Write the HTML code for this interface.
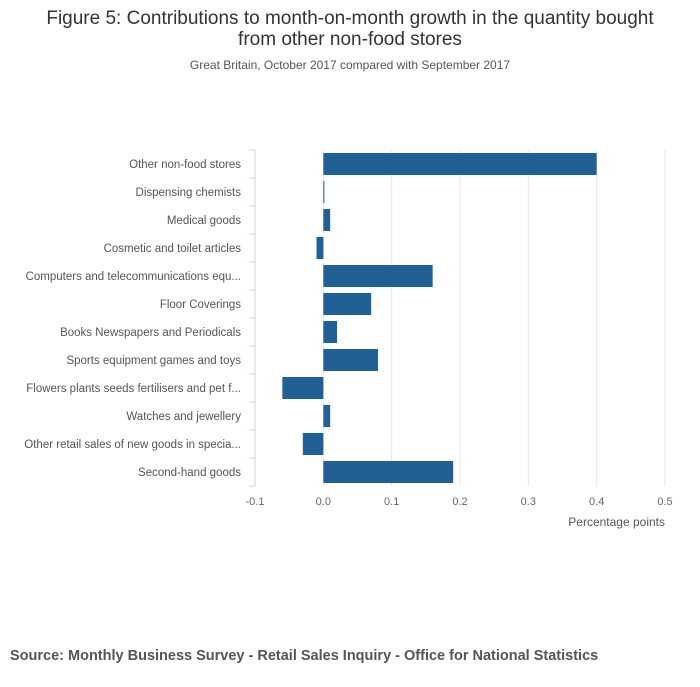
<!DOCTYPE html>
<html><head><meta charset="utf-8"><style>
body{margin:0;background:#fff;font-family:"Liberation Sans",sans-serif;}
</style></head><body>
<svg width="700" height="682" xmlns="http://www.w3.org/2000/svg">
<text x="350" y="24" text-anchor="middle" font-size="19" fill="#333">Figure 5: Contributions to month-on-month growth in the quantity bought</text>
<text x="350" y="45" text-anchor="middle" font-size="19" fill="#333">from other non-food stores</text>
<text x="350" y="69" text-anchor="middle" font-size="12" fill="#555">Great Britain, October 2017 compared with September 2017</text>
<g id="grid"></g><g id="bars"></g><g id="axes"></g>
<text x="665" y="526" text-anchor="end" font-size="12" fill="#555">Percentage points</text>
<text x="10" y="660" font-size="14.5" font-weight="bold" fill="#555">Source: Monthly Business Survey - Retail Sales Inquiry - Office for National Statistics</text>
</svg>
<script>
const categories=["Other non-food stores","Dispensing chemists","Medical goods","Cosmetic and toilet articles","Computers and telecommunications equ...","Floor Coverings","Books Newspapers and Periodicals","Sports equipment games and toys","Flowers plants seeds fertilisers and pet f...","Watches and jewellery","Other retail sales of new goods in specia...","Second-hand goods"];
const values=[0.40,0.001,0.01,-0.01,0.16,0.07,0.02,0.08,-0.06,0.01,-0.03,0.19];
const ticks=[-0.1,0,0.1,0.2,0.3,0.4,0.5];
const tickLabels=["-0.1","0.0","0.1","0.2","0.3","0.4","0.5"];
const NS="http://www.w3.org/2000/svg";
const x0=255,x1=665,vmin=-0.1,vmax=0.5,plotTop=150,step=28;
const X=v=>x0+(v-vmin)/(vmax-vmin)*(x1-x0);
const Y=i=>plotTop+i*step;
function mk(t,a,p){const e=document.createElementNS(NS,t);for(const k in a)e.setAttribute(k,a[k]);p.appendChild(e);return e;}
const g=document.getElementById('grid'),b=document.getElementById('bars'),ax=document.getElementById('axes');
ticks.forEach((t,i)=>{
 const l=mk('line',{x1:X(t),x2:X(t),y1:plotTop,y2:Y(categories.length),stroke:'#e6e6e6'},g);
 
 
 const tx=mk('text',{x:X(t),y:505,'text-anchor':'middle','font-size':11,fill:'#666'},ax);
 tx.textContent=tickLabels[i];
 
 
});
const al=mk('line',{x1:x0,x2:x0,y1:plotTop,y2:Y(categories.length),stroke:'#ccd6eb'},ax);


for(let i=0;i<=categories.length;i++){
 const tk=mk('line',{x1:x0-6,x2:x0,y1:Y(i),y2:Y(i),stroke:'#ccd6eb'},ax);
 
 
}
categories.forEach((c,i)=>{
 const t=mk('text',{x:241,y:Y(i)+18,'text-anchor':'end','font-size':11.5,fill:'#555'},ax);
 t.textContent=c;
 
 
 const v=values[i],xa=X(Math.min(0,v)),xb=X(Math.max(0,v));
 const r=mk('rect',{x:xa,y:Y(i)+3,width:Math.max(1,xb-xa),height:22,fill:'#206095'},b);
 
 
});
</script>
</body></html>
